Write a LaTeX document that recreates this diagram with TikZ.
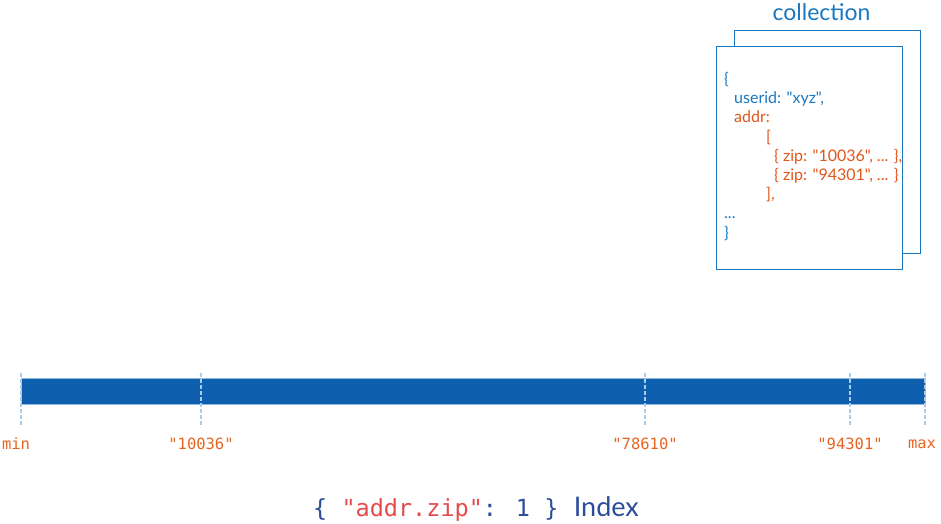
\documentclass[tikz,border=0pt]{standalone}
\usepackage{fontspec}
\setmainfont{Lato}[Ligatures=TeXOff]
\newfontfamily\codefont{DejaVu Sans Mono}
\usetikzlibrary{positioning}
\definecolor{barblue}{HTML}{0E5FAE}
\definecolor{barlight}{HTML}{8DB8E0}
\definecolor{tickblue}{HTML}{A9CDE9}
\definecolor{zipor}{HTML}{E8641E}
\definecolor{docblue}{HTML}{1B78C0}
\definecolor{docor}{HTML}{E2561A}
\definecolor{idxblue}{HTML}{2B4C9A}
\definecolor{idxred}{HTML}{E34B4B}

\begin{document}
\begin{tikzpicture}
		[   x=1pt,y=-1pt,
		    docbox/.style={draw=docblue,fill=white,line width=1pt,minimum width=186pt,minimum height=223pt,inner sep=0pt,anchor=north west},
		    lbl/.style={text=zipor,font=\codefont\fontsize{15.5}{18}\selectfont,inner sep=0pt},
		]
		\tikzset{tick line/.style={draw=tickblue,dashed,line width=1.2pt,dash pattern=on 4pt off 2pt}}
		\useasboundingbox (0,0) rectangle (941,523);
		
		% collection
		\node[docbox] (back) at (734,30) {};
		\node[docbox] (front) at (716,46) {};
		\node[text=docblue,font=\fontsize{23}{26}\selectfont,above=9pt of back.north,xshift=-6pt,inner sep=0pt] (title) {collection};
		
		\node[anchor=north west,align=left,inner sep=0pt,font=\fontsize{16}{19.2}\selectfont,text=docblue] (doc) at (724,72)
		{%
			\{\\
			\hspace*{10pt}userid: "xyz",\\
			\hspace*{10pt}\textcolor{docor}{addr:}\\
			\hspace*{42pt}\textcolor{docor}{[}\\
			\hspace*{50pt}\textcolor{docor}{\{ zip: "10036", ... \},}\\
			\hspace*{50pt}\textcolor{docor}{\{ zip: "94301", ... \}}\\
			\hspace*{42pt}\textcolor{docor}{],}\\
			...\\
			\}%
		};
		
		% index bar
		\node[draw=barlight,fill=barblue,line width=1pt,minimum width=904pt,minimum height=26pt,inner sep=0pt,anchor=north west] (bar) at (21,378) {};
		
		\foreach \x/\n in {21/min,201/a,645/b,850/c,925/max}
		{
			\coordinate (t-\n) at (\x,373);
			\coordinate (b-\n) at (\x,427);
			\path[tick line] (t-\n) -- (b-\n);
		}
		
		\node[lbl] (l-min) at (16,444) {min};
		\node[lbl] (l-a) at (201,444) {"10036"};
		\node[lbl] (l-b) at (645,444) {"78610"};
		\node[lbl] (l-c) at (850,444) {"94301"};
		\node[lbl] (l-max) at (922,444) {max};
		
		% index spec
		\node[anchor=base west,inner sep=0pt,text=idxblue,font=\codefont\fontsize{23.5}{26}\selectfont] (spec) at (313,516)
		{\{ \textcolor{idxred}{"addr.zip"}: 1 \}};
		\node[inner sep=0pt,text=idxblue,font=\fontsize{27}{29}\selectfont,right=15pt of spec.base east,anchor=base west] (idx) {Index};
\end{tikzpicture}
\end{document}
